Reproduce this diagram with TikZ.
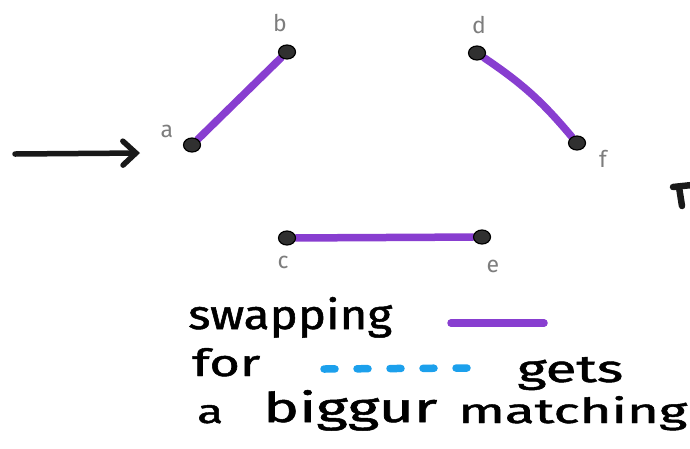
\documentclass[tikz,border=0pt]{standalone}
\usepackage{fontspec}
\setmainfont{Fira Sans}
\newfontfamily\handfont[FakeBold=1.2]{Fira Sans}
\usepackage{graphicx}
\usetikzlibrary{arrows.meta}
\definecolor{mpurple}{RGB}{136,62,208}
\definecolor{mblue}{RGB}{28,160,236}
\definecolor{dotc}{RGB}{48,48,48}
\definecolor{labc}{RGB}{125,125,125}
\pgfdeclarelayer{bg}
\pgfsetlayers{bg,main}
\tikzset{
  vtx/.style={ellipse,fill=dotc,draw=black,line width=1.2pt,minimum width=17pt,minimum height=14pt,inner sep=0pt},
  vlab/.style={text=labc,font=\fontsize{23}{23}\selectfont,inner sep=0pt},
  match/.style={draw=mpurple,line width=7.5pt,line cap=round},
  aug/.style={draw=mblue,line width=7.5pt,line cap=round,dash pattern=on 11pt off 22pt},
  word/.style={anchor=base west,inner sep=0pt,text=black,font=\handfont},
  ink/.style={draw=black!90,line width=5.5pt,line cap=round,line join=round},
}
\usetikzlibrary{shapes.geometric}
\begin{document}
\begin{tikzpicture}[x=1pt,y=-1pt]
\useasboundingbox (0,0) rectangle (690,448);
% vertices
\node[vtx] (a) at (192,145) {};
\node[vtx] (b) at (287,52) {};
\node[vtx] (d) at (477,53) {};
\node[vtx] (f) at (577,143) {};
\node[vtx] (c) at (287,238) {};
\node[vtx] (e) at (482,237) {};
% vertex labels
\node[vlab] (la) at (167,131) {a};
\node[vlab] (lb) at (280,23) {b};
\node[vlab] (ld) at (479,25) {d};
\node[vlab] (lf) at (603,159) {f};
\node[vlab] (lc) at (283,262) {c};
\node[vlab] (le) at (493,266) {e};
% matching edges
\begin{pgfonlayer}{bg}
\draw[match] (a) -- (b);
\draw[match] (d) to[bend left=8] (f);
\draw[match] (c) -- (e);
\end{pgfonlayer}
% arrow at left
\coordinate (s) at (15,154);
\coordinate (t) at (140,153);
\draw[ink,-{Straight Barb[length=13pt,width=24pt,line cap=round]}] (s) -- (t);
% cut-off mark at right edge
\coordinate (r1) at (673,187);
\coordinate (r2) at (692,185);
\coordinate (r3) at (679,187);
\coordinate (r4) at (682,206);
\draw[ink,line width=6.5pt] (r1) -- (r2);
\draw[ink,line width=6.5pt] (r3) -- (r4);
% legend lines
\coordinate (p1) at (451,323);
\coordinate (p2) at (544,323);
\draw[match] (p1) -- (p2);
\coordinate (q1) at (324,369);
\coordinate (q2) at (467,368);
\draw[aug] (q1) -- (q2);
% words
\node[word] (w1) at (188,329) {\resizebox{204pt}{32pt}{swapping}};
\node[word] (w2) at (192,376) {\resizebox{68pt}{28pt}{for}};
\node[word] (w3) at (517,382) {\resizebox{106pt}{25pt}{gets}};
\node[word] (w4) at (197,423) {\resizebox{26pt}{18pt}{a}};
\node[word] (w5) at (263,422) {\resizebox{174pt}{32pt}{biggur}};
\node[word] (w6) at (458,423) {\resizebox{229pt}{27pt}{matching}};
\end{tikzpicture}
\end{document}
